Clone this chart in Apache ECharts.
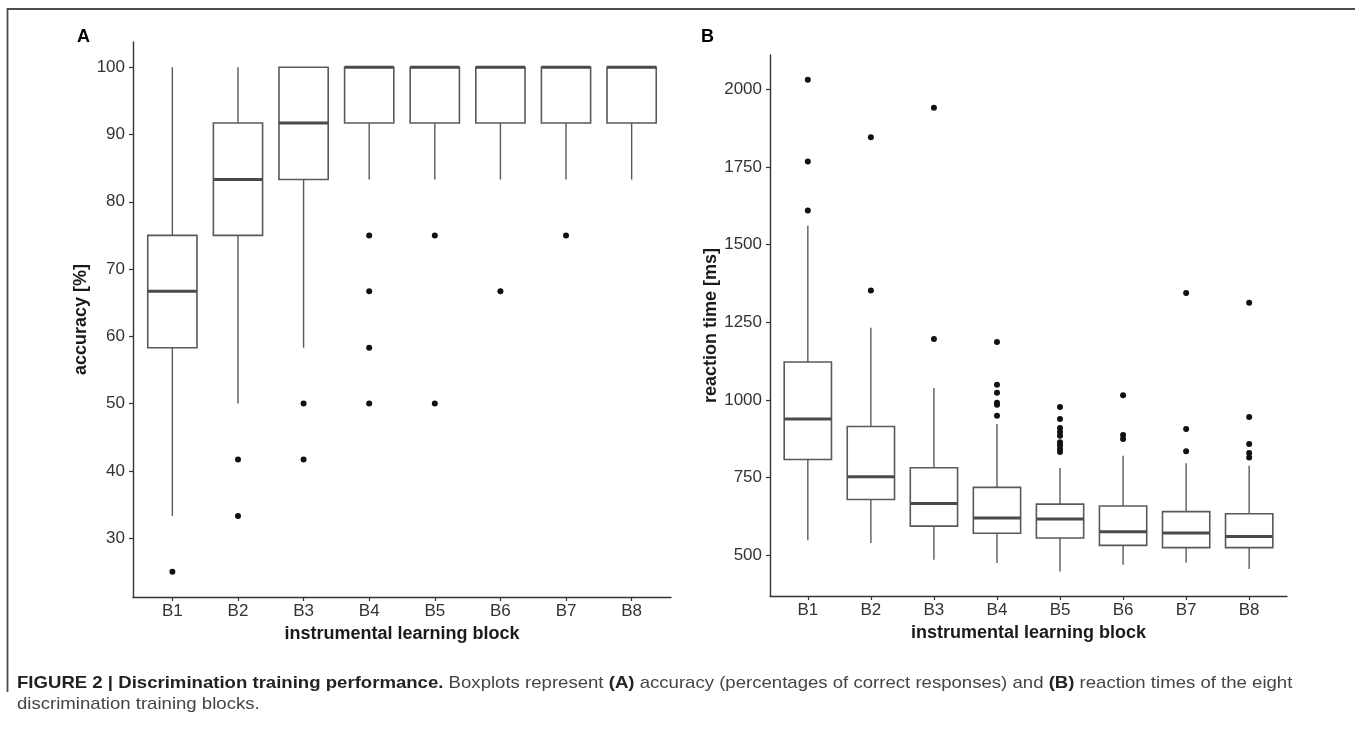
<!DOCTYPE html>
<html>
<head>
<meta charset="utf-8">
<script src="https://cdn.jsdelivr.net/npm/echarts@6/dist/echarts.min.js"></script>
<style>
html,body{margin:0;padding:0;background:#fff;}
#chart{width:1355px;height:732px;}
</style>
</head>
<body>
<div id="chart"></div>
<script>
// ---------- data ----------
const categories = ['B1', 'B2', 'B3', 'B4', 'B5', 'B6', 'B7', 'B8'];

// Panel A: accuracy [%]
const accLow    = [33.3, 50.0, 58.3, 83.3, 83.3, 83.3, 83.3, 83.3];
const accQ1     = [58.3, 75.0, 83.3, 91.7, 91.7, 91.7, 91.7, 91.7];
const accMedian = [66.7, 83.3, 91.7, 100, 100, 100, 100, 100];
const accQ3     = [75.0, 91.7, 100, 100, 100, 100, 100, 100];
const accHigh   = [100, 100, 100, 100, 100, 100, 100, 100];
const accOutliers = [
  [25.0],
  [41.7, 33.3],
  [50.0, 41.7],
  [75.0, 66.7, 58.3, 50.0],
  [75.0, 50.0],
  [66.7],
  [75.0],
  []
];
const accTicks = [30, 40, 50, 60, 70, 80, 90, 100];

// Panel B: reaction time [ms]
const rtLow    = [548, 539, 485, 474, 447, 469, 476, 455];
const rtQ1     = [808, 679, 593, 570, 555, 531, 524, 524];
const rtMedian = [938, 752, 666, 619, 616, 575, 571, 560];
const rtQ3     = [1122, 914, 781, 718, 664, 658, 640, 633];
const rtHigh   = [1561, 1232, 1038, 922, 780, 820, 796, 788];
const rtOutliers = [
  [2031, 1768, 1610],
  [1846, 1352],
  [1941, 1196],
  [1186, 1049, 1023, 991, 984, 949],
  [977, 938, 909, 896, 884, 863, 853, 842, 832],
  [1015, 887, 874],
  [1344, 906, 834],
  [1313, 945, 858, 829, 814]
];
const rtTicks = [500, 750, 1000, 1250, 1500, 1750, 2000];

// ---------- helpers ----------
const positions = categories.map((c, i) => i + 1);
function boxData(lo, q1, med, q3, hi) {
  return positions.map((p, i) => [p, lo[i], q1[i], med[i], q3[i], hi[i]]);
}
function outlierData(list) {
  const out = [];
  list.forEach((vals, i) => vals.forEach(v => out.push([i + 1, v])));
  return out;
}
const FONT = "'Liberation Sans', Arial, Helvetica, sans-serif";
const BOX_W = 0.75;

function renderBox(params, api) {
  const x = api.value(0);
  const lo = api.coord([x, api.value(1)]);
  const q1 = api.coord([x, api.value(2)]);
  const md = api.coord([x, api.value(3)]);
  const q3 = api.coord([x, api.value(4)]);
  const hi = api.coord([x, api.value(5)]);
  const half = api.size([BOX_W, 0])[0] / 2;
  const cx = q1[0];
  const lineStyle = {stroke: '#595959', lineWidth: 1.4, fill: null};
  return {
    type: 'group',
    children: [
      {type: 'line', shape: {x1: cx, y1: q3[1], x2: cx, y2: hi[1]}, style: lineStyle},
      {type: 'line', shape: {x1: cx, y1: q1[1], x2: cx, y2: lo[1]}, style: lineStyle},
      {type: 'rect', shape: {x: cx - half, y: q3[1], width: half * 2, height: q1[1] - q3[1]},
        style: {stroke: '#595959', lineWidth: 1.6, fill: '#fff'}},
      {type: 'line', shape: {x1: cx - half, y1: md[1], x2: cx + half, y2: md[1]},
        style: {stroke: '#4a4a4a', lineWidth: 3, fill: null}}
    ]
  };
}

function xAxisCfg(gridIndex) {
  return {
    type: 'value', gridIndex: gridIndex, min: 0.4, max: 8.6,
    name: 'instrumental learning block', nameLocation: 'middle', nameGap: 22,
    nameTextStyle: {fontFamily: FONT, fontSize: 18, fontWeight: 'bold', color: '#1a1a1a'},
    axisLine: {show: true, onZero: false, lineStyle: {color: '#333', width: 1.4}},
    axisTick: {show: true, length: 4, customValues: positions, lineStyle: {color: '#333', width: 1.2}},
    axisLabel: {show: true, customValues: positions, margin: 6, fontFamily: FONT, fontSize: 17, color: '#333',
      formatter: v => categories[Math.round(v) - 1] || ''},
    splitLine: {show: false}
  };
}
function yAxisCfg(gridIndex, min, max, ticks, name, gap) {
  return {
    type: 'value', gridIndex: gridIndex, min: min, max: max,
    name: name, nameLocation: 'middle', nameGap: gap, nameRotate: 90,
    nameTextStyle: {fontFamily: FONT, fontSize: 18, fontWeight: 'bold', color: '#1a1a1a'},
    axisLine: {show: true, onZero: false, lineStyle: {color: '#333', width: 1.4}},
    axisTick: {show: true, length: 4, customValues: ticks, lineStyle: {color: '#333', width: 1.2}},
    axisLabel: {show: true, customValues: ticks, margin: 8, fontFamily: FONT, fontSize: 17, color: '#333',
      formatter: v => String(Math.round(v))},
    splitLine: {show: false}
  };
}

const chart = echarts.init(document.getElementById('chart'), null, {renderer: 'canvas'});
chart.setOption({
  backgroundColor: '#fff',
  animation: false,
  grid: [
    {left: 133, top: 42, width: 538, height: 555},
    {left: 770, top: 55, width: 517, height: 541}
  ],
  xAxis: [xAxisCfg(0), xAxisCfg(1)],
  yAxis: [
    yAxisCfg(0, 21.25, 103.75, accTicks, 'accuracy [%]', 43),
    yAxisCfg(1, 368, 2111, rtTicks, 'reaction time [ms]', 46)
  ],
  series: [
    {type: 'custom', name: 'accuracy', xAxisIndex: 0, yAxisIndex: 0,
      data: boxData(accLow, accQ1, accMedian, accQ3, accHigh), renderItem: renderBox,
      encode: {x: 0, y: [1, 2, 3, 4, 5]}},
    {type: 'scatter', name: 'accuracy outliers', xAxisIndex: 0, yAxisIndex: 0,
      data: outlierData(accOutliers), symbolSize: 6, itemStyle: {color: '#111', opacity: 1}},
    {type: 'custom', name: 'reaction time', xAxisIndex: 1, yAxisIndex: 1,
      data: boxData(rtLow, rtQ1, rtMedian, rtQ3, rtHigh), renderItem: renderBox,
      encode: {x: 0, y: [1, 2, 3, 4, 5]}},
    {type: 'scatter', name: 'reaction time outliers', xAxisIndex: 1, yAxisIndex: 1,
      data: outlierData(rtOutliers), symbolSize: 6, itemStyle: {color: '#111', opacity: 1}}
  ],
  graphic: [
    {type: 'polyline', shape: {points: [[7.5, 692], [7.5, 9], [1355, 9]]},
      style: {stroke: '#4d4d4d', lineWidth: 1.8, fill: null}},
    {type: 'text', left: 77, top: 28, style: {text: 'A', font: "bold 18px " + FONT, fill: '#000'}},
    {type: 'text', left: 701, top: 28, style: {text: 'B', font: "bold 18px " + FONT, fill: '#000'}},
    {type: 'text', x: 17, y: 683, scaleX: 1.093, style: {
      text: '{b|FIGURE 2 | Discrimination training performance.} Boxplots represent {b|(A)} accuracy (percentages of correct responses) and {b|(B)} reaction times of the eight',
      font: "17px " + FONT, fill: '#444', verticalAlign: 'middle',
      rich: {b: {fontWeight: 'bold', fontSize: 17, fontFamily: FONT, fill: '#222'}}}},
    {type: 'text', x: 17, y: 704, scaleX: 1.093, style: {
      text: 'discrimination training blocks.', font: "17px " + FONT, fill: '#444', verticalAlign: 'middle'}}
  ]
});
</script>
</body>
</html>
